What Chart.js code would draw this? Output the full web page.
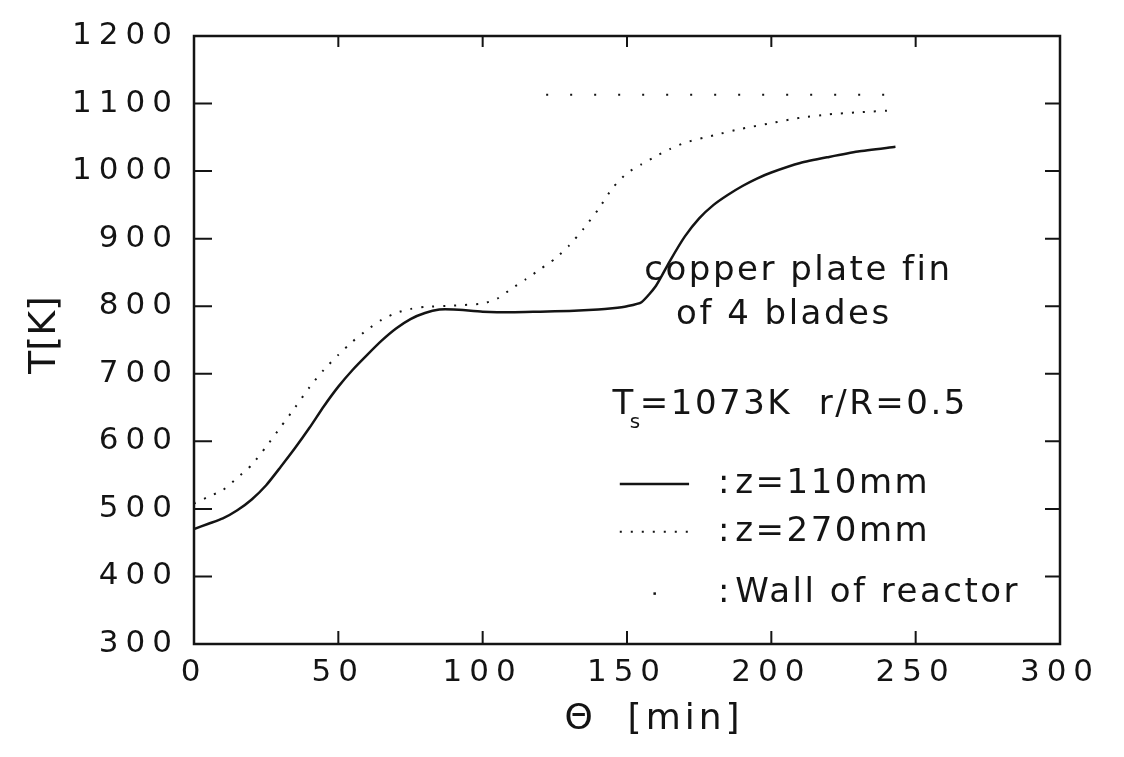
<!DOCTYPE html>
<html>
<head>
<meta charset="utf-8">
<script src="https://cdn.jsdelivr.net/npm/chart.js@4.4.1/dist/chart.umd.min.js"></script>
<style>
  html, body { margin: 0; padding: 0; background: #fff; }
</style>
</head>
<body>
<canvas id="chart" width="1124" height="757"></canvas>
<script>
// time axis [min] and temperature [K]
const timeZ110 = [0, 5, 10, 15, 20, 25, 30, 35, 40, 45, 50, 55, 60, 65, 70, 75, 80, 85, 90, 100,
                  110, 120, 130, 140, 145, 150, 155, 160, 165, 170, 175, 180, 185, 190, 195, 200, 210, 220, 230, 243];
const tempZ110 = [470, 478, 486, 498, 514, 535, 562, 590, 620, 652, 681, 706, 728, 749, 767, 781, 790, 795, 795, 792,
                  791, 792, 793, 795, 797, 800, 806, 830, 868, 903, 930, 950, 965, 978, 989, 998, 1012, 1021, 1029, 1036];

const timeZ270 = [0, 5, 10, 15, 20, 25, 30, 35, 40, 45, 50, 55, 60, 65, 70, 75, 80, 90, 100, 105,
                  110, 115, 120, 125, 130, 135, 140, 145, 150, 155, 160, 165, 170, 180, 190, 200, 210, 220, 230, 243];
const tempZ270 = [508, 518, 528, 546, 565, 592, 621, 650, 680, 706, 728, 748, 765, 780, 790, 796, 799, 801, 804, 811,
                  826, 840, 855, 870, 890, 915, 943, 975, 997, 1010, 1022, 1033, 1042, 1053, 1063, 1071, 1079, 1084, 1087, 1090];

const timeWall = [122, 243];
const tempWall = [1113, 1113];

const xTicks = [0, 50, 100, 150, 200, 250, 300];
const yTicks = [300, 400, 500, 600, 700, 800, 900, 1000, 1100, 1200];

const INK = '#141414';
const FONT = '"DejaVu Sans", sans-serif';

const toPoints = (xs, ys) => xs.map((t, i) => ({ x: t, y: ys[i] }));

// frame with inward ticks, axis titles, in-plot notes and key
const framePlugin = {
    id: 'frame',
    beforeDraw(chart) {
        // spaced-out tick digits as in the scan
        chart.ctx.letterSpacing = '7px';
    },
    afterDraw(chart) {
        const { ctx, chartArea: a, scales: { x, y } } = chart;
        ctx.save();
        ctx.letterSpacing = '0px';
        ctx.strokeStyle = INK;
        ctx.lineWidth = 2.5;
        ctx.strokeRect(a.left, a.top, a.right - a.left, a.bottom - a.top);

        ctx.lineWidth = 2;
        ctx.beginPath();
        yTicks.forEach(v => {
            const py = y.getPixelForValue(v);
            ctx.moveTo(a.left, py); ctx.lineTo(a.left + 18, py);
            ctx.moveTo(a.right, py); ctx.lineTo(a.right - 15, py);
        });
        xTicks.forEach(v => {
            const px = x.getPixelForValue(v);
            ctx.moveTo(px, a.bottom); ctx.lineTo(px, a.bottom - 13);
            ctx.moveTo(px, a.top); ctx.lineTo(px, a.top + 11);
        });
        ctx.stroke();

        ctx.fillStyle = INK;
        ctx.textBaseline = 'middle';

        // axis titles
        ctx.textAlign = 'center';
        ctx.font = '36px ' + FONT;
        ctx.letterSpacing = '4px';
        ctx.fillText('Θ  [min]', 654, 720);
        ctx.save();
        ctx.translate(45, 335);
        ctx.rotate(-Math.PI / 2);
        ctx.font = '38px ' + FONT;
        ctx.letterSpacing = '0px';
        ctx.fillText('T[K]', 0, 0);
        ctx.restore();

        // notes
        ctx.textAlign = 'left';
        ctx.font = '34px ' + FONT;
        ctx.letterSpacing = '2.5px';
        ctx.fillText('copper plate fin', x.getPixelForValue(156), y.getPixelForValue(852));
        ctx.fillText('of 4 blades', x.getPixelForValue(167), y.getPixelForValue(787));

        const tx = x.getPixelForValue(145), ty = y.getPixelForValue(654);
        ctx.fillText('T', tx, ty);
        const tw = ctx.measureText('T').width;
        ctx.font = '20px ' + FONT;
        ctx.fillText('s', tx + tw - 6, ty + 18);
        ctx.font = '34px ' + FONT;
        ctx.fillText('=1073K  r/R=0.5', tx + tw + 4, ty);

        // key
        const kx0 = x.getPixelForValue(147.5), kx1 = x.getPixelForValue(171.5);
        const colonX = x.getPixelForValue(181.5), textX = x.getPixelForValue(187.5);
        const rows = [
            { T: 537, label: 'z=110mm', dash: [], w: 2.5 },
            { T: 466, label: 'z=270mm', dash: [2, 9], w: 2 },
            { T: 375, label: 'Wall of reactor', dash: null, w: 2 }
        ];
        rows.forEach(r => {
            const py = y.getPixelForValue(r.T);
            if (r.dash) {
                ctx.beginPath();
                ctx.setLineDash(r.dash);
                ctx.lineWidth = r.w;
                ctx.moveTo(kx0, py); ctx.lineTo(kx1, py);
                ctx.stroke();
                ctx.setLineDash([]);
            } else {
                ctx.fillRect((kx0 + kx1) / 2 - 1, py - 1, 2.5, 2.5);
            }
            ctx.fillText(':', colonX, py);
            ctx.fillText(r.label, textX, py);
        });
        ctx.restore();
    }
};

new Chart(document.getElementById('chart'), {
    type: 'line',
    data: {
        datasets: [
            {
                label: 'z=110mm',
                data: toPoints(timeZ110, tempZ110),
                borderColor: INK,
                borderWidth: 2.5,
                pointRadius: 0,
                tension: 0.2,
            },
            {
                label: 'z=270mm',
                data: toPoints(timeZ270, tempZ270),
                borderColor: INK,
                borderWidth: 2,
                borderDash: [2, 9],
                pointRadius: 0,
                tension: 0.2,
            },
            {
                label: 'Wall of reactor',
                data: toPoints(timeWall, tempWall),
                borderColor: INK,
                borderWidth: 2,
                borderDash: [2, 22],
                pointRadius: 0,
            },
        ],
    },
    options: {
        responsive: false,
        animation: false,
        devicePixelRatio: 1,
        layout: { padding: { top: 36, right: 64, left: 0, bottom: 0 } },
        plugins: {
            legend: { display: false },
            tooltip: { enabled: false },
        },
        scales: {
            x: {
                type: 'linear',
                min: 0,
                max: 300,
                afterBuildTicks: s => { s.ticks = xTicks.map(v => ({ value: v })); },
                afterFit: s => { s.height = 113; },
                grid: { display: false, drawTicks: false },
                border: { display: false },
                ticks: {
                    color: INK,
                    font: { size: 31, family: FONT },
                    padding: 10,
                    maxRotation: 0,
                    callback: v => String(v),
                },
            },
            y: {
                type: 'linear',
                min: 300,
                max: 1200,
                afterBuildTicks: s => { s.ticks = yTicks.map(v => ({ value: v })); },
                afterFit: s => { s.width = 194; },
                grid: { display: false, drawTicks: false },
                border: { display: false },
                ticks: {
                    color: INK,
                    font: { size: 31, family: FONT },
                    padding: 15,
                    callback: v => String(v),
                },
            },
        },
    },
    plugins: [framePlugin],
});
</script>
</body>
</html>
